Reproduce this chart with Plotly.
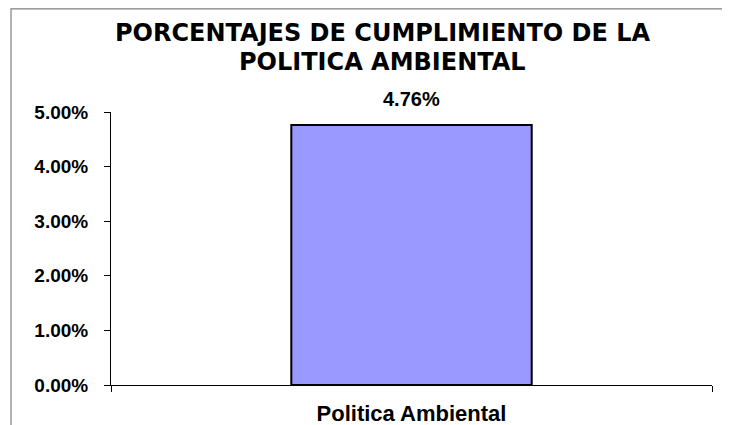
import plotly.graph_objects as go

categories = ["Politica Ambiental"]
values = [0.0476]
value_labels = ["4.76%"]
title_lines = ["PORCENTAJES DE CUMPLIMIENTO DE LA", "POLITICA AMBIENTAL"]

# page body has an 8px margin, so the figure is drawn 8px right/down
OFF = 8
W, H = 730 - OFF, 425 - OFF
L = 111 - OFF
T = 112 - OFF
R = W - (712 - OFF)
B = H - (385 - OFF)
plot_h = H - T - B
plot_w = W - L - R

def px_to_paper_x(px):
    return (px - OFF - L) / plot_w

def px_to_paper_y(py):
    return (H - B - (py - OFF)) / plot_h

fig = go.Figure()
fig.add_trace(go.Bar(
    x=categories, y=values,
    marker=dict(color="#9999FF", line=dict(color="#000000", width=2)),
    width=0.4,
    hoverinfo="skip",
))

for c, v, t in zip(categories, values, value_labels):
    fig.add_annotation(x=c, y=v, text="<b>" + t + "</b>", showarrow=False, yanchor="bottom", yshift=13,
                       font=dict(family="Liberation Sans, Arial", size=20, color="#000000"))

title_y_px = [33, 62]
for line, ypx in zip(title_lines, title_y_px):
    fig.add_annotation(xref="paper", yref="paper", x=px_to_paper_x(382), y=px_to_paper_y(ypx),
                       xanchor="center", yanchor="middle", text="<b>" + line + "</b>", showarrow=False,
                       font=dict(family="DejaVu Sans", size=24, color="#000000"))

fig.update_layout(
    width=W, height=H,
    margin=dict(l=L, r=R, t=T, b=B, pad=0, autoexpand=False),
    paper_bgcolor="#FFFFFF", plot_bgcolor="#FFFFFF",
    showlegend=False,
    xaxis=dict(
        range=[-0.5, 0.5], showgrid=False, showline=True, linecolor="#000000", linewidth=1,
        ticks="outside", tickson="boundaries", ticklen=6, tickcolor="#000000",
        tickfont=dict(family="Liberation Sans, Arial", size=22, color="#000000", weight="bold"),
        ticklabelstandoff=9, automargin=False,
    ),
    yaxis=dict(
        range=[0, 0.05], dtick=0.01, tickformat=".2%", showgrid=False, zeroline=False,
        showline=True, linecolor="#000000", linewidth=1,
        ticks="outside", ticklen=6, tickcolor="#000000",
        tickfont=dict(family="Liberation Sans, Arial", size=19, color="#000000", weight="bold"),
        ticklabelstandoff=12, automargin=False,
    ),
    shapes=[dict(type="rect", xref="paper", yref="paper",
                 x0=px_to_paper_x(11), x1=px_to_paper_x(760),
                 y0=px_to_paper_y(460), y1=px_to_paper_y(OFF + 0.8),
                 line=dict(color="#808080", width=1.2), fillcolor="rgba(0,0,0,0)", layer="below")],
)

fig.write_html("out.html")
